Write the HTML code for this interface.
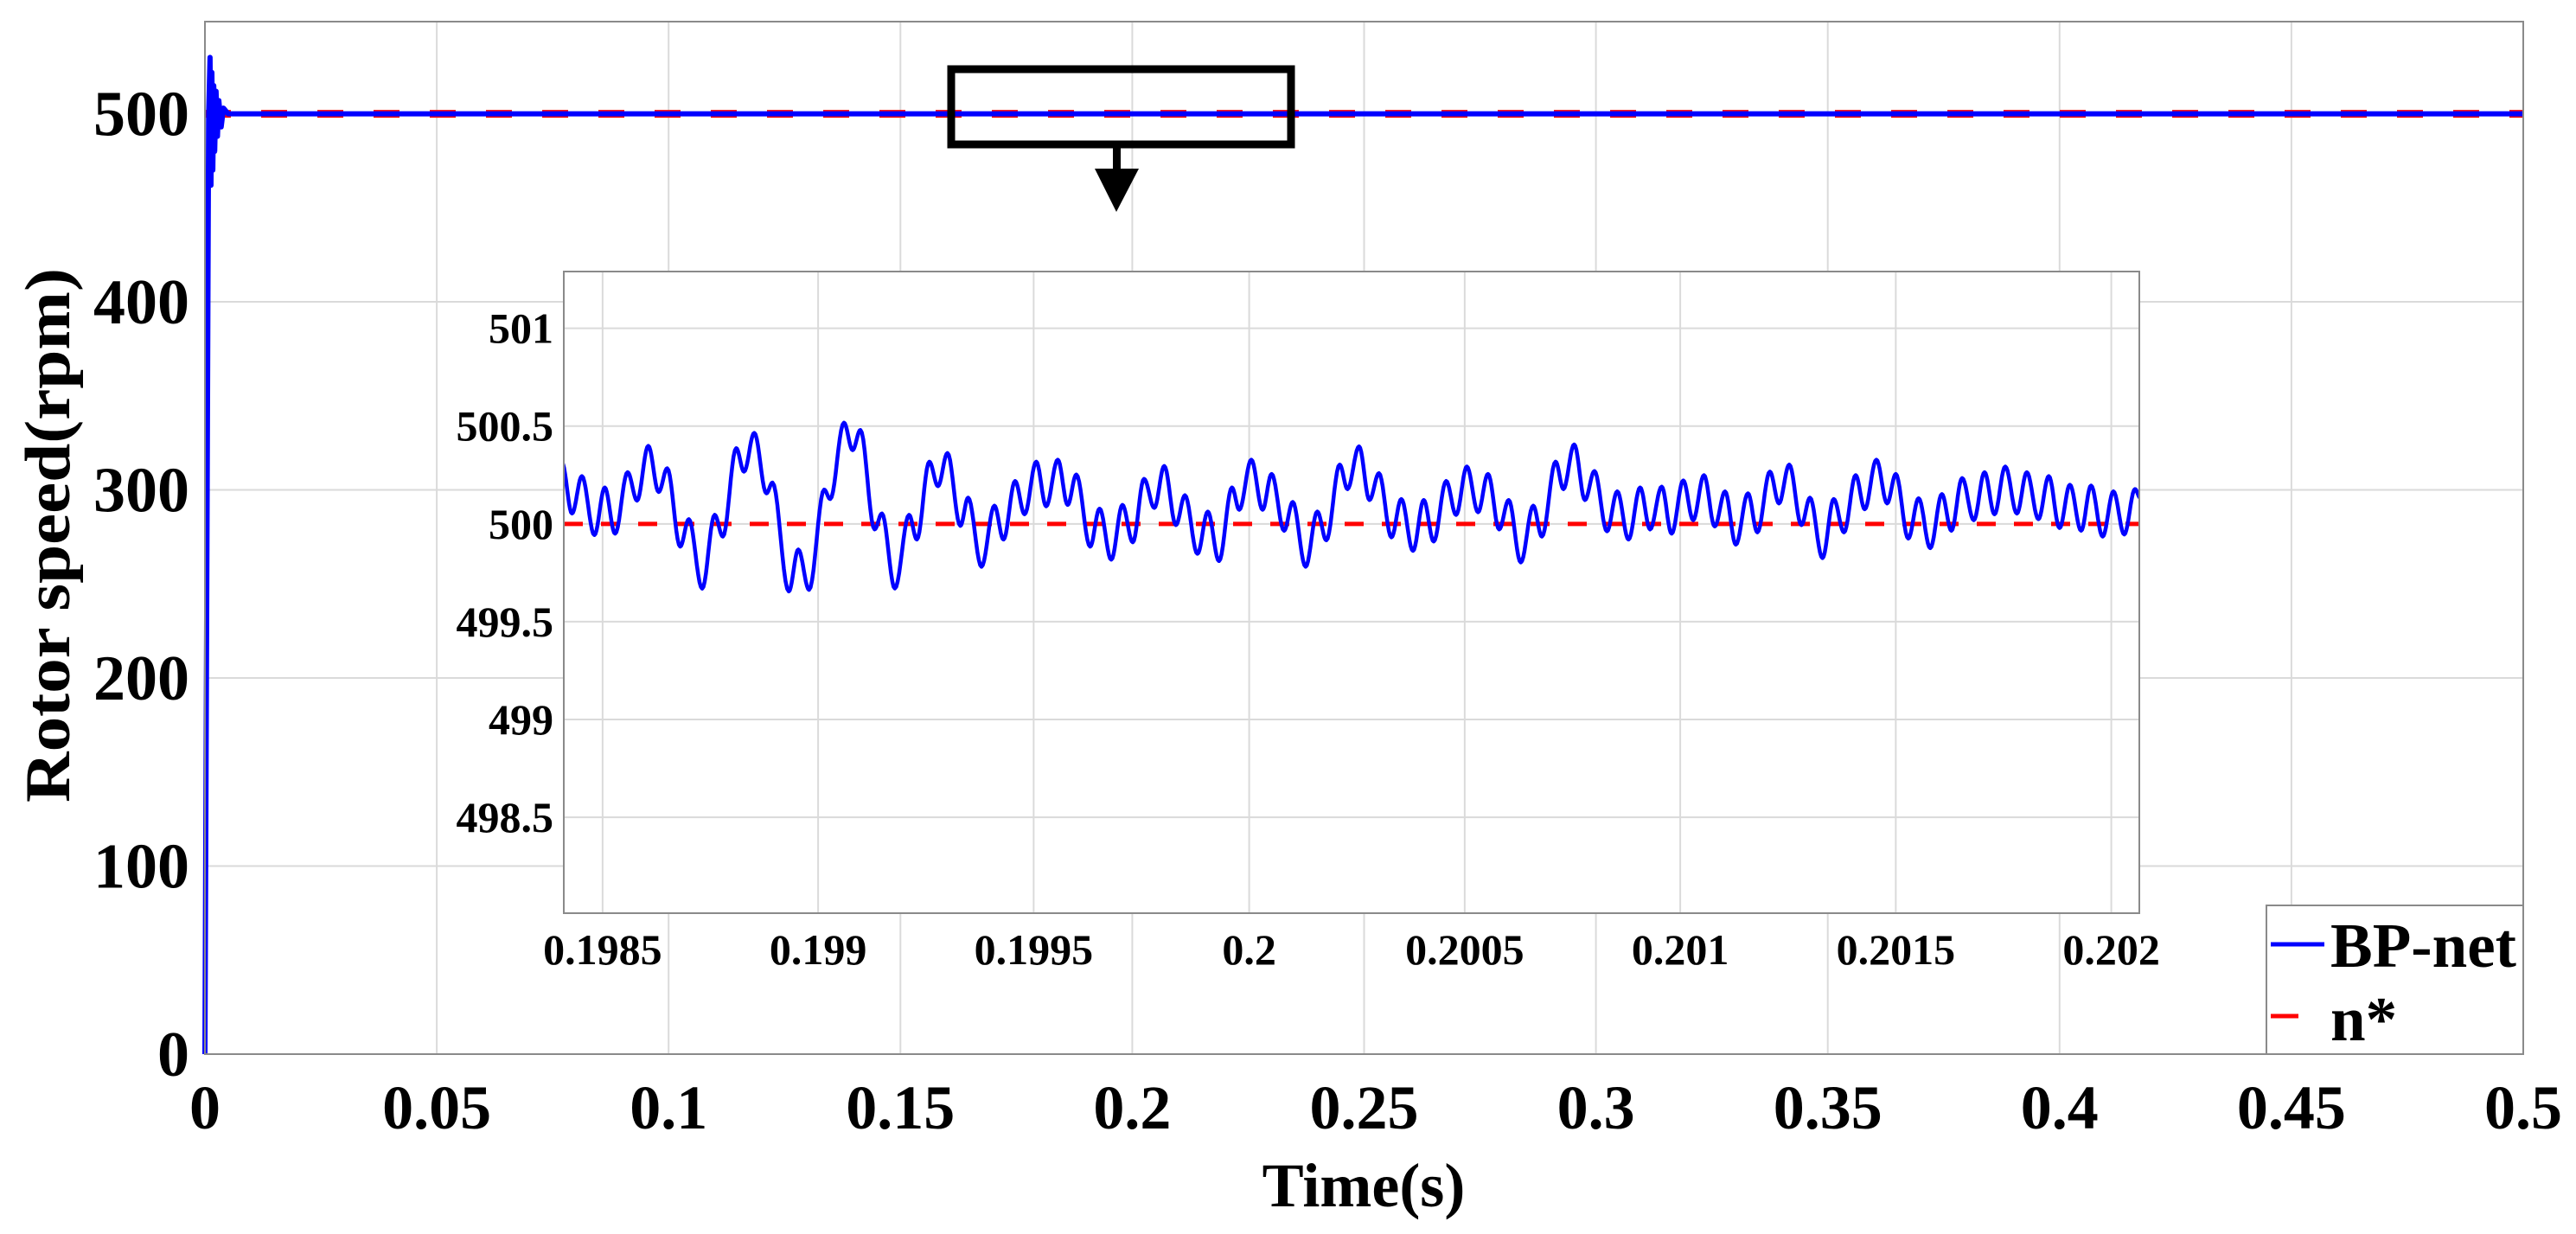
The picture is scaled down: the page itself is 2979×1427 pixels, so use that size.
<!DOCTYPE html>
<html><head><meta charset="utf-8">
<style>
html,body{margin:0;padding:0;background:#fff;}
svg{display:block;}
text{font-family:"Liberation Serif","Times New Roman",serif;font-weight:bold;fill:#000;}
</style></head>
<body>
<svg id="chart" width="2979" height="1427" viewBox="0 0 2979 1427" xmlns="http://www.w3.org/2000/svg">
  <rect x="0" y="0" width="2979" height="1427" fill="#fff"/>
  <g id="main-grid"></g>
  <g id="main-series"></g>
  <rect x="237" y="25" width="2681" height="1194" fill="none" stroke="#8a8a8a" stroke-width="2"/>
  <g id="main-ticks"></g>
  <text x="1577" y="1395" font-size="72" text-anchor="middle">Time(s)</text>
  <text transform="translate(80,619) rotate(-90)" font-size="74" text-anchor="middle" textLength="618" lengthAdjust="spacingAndGlyphs">Rotor speed(rpm)</text>
  <g>
    <rect x="1100" y="80" width="393" height="87" fill="none" stroke="#000" stroke-width="9"/>
    <rect x="1287" y="170" width="9" height="27" fill="#000"/>
    <polygon points="1266,195 1317,195 1291,245" fill="#000"/>
  </g>
  <g id="inset">
    <rect x="652" y="314" width="1822" height="742" fill="#fff"/>
    <g id="inset-grid"></g>
    <clipPath id="insetClip"><rect x="652" y="314" width="1822" height="742"/></clipPath>
    <g id="inset-series" clip-path="url(#insetClip)"></g>
    <rect x="652" y="314" width="1822" height="742" fill="none" stroke="#8a8a8a" stroke-width="2"/>
    <g id="inset-ticks"></g>
  </g>
  <g>
    <rect x="2621" y="1047" width="297" height="172" fill="#fff" stroke="#8a8a8a" stroke-width="2"/>
    <line x1="2626" y1="1092" x2="2688" y2="1092" stroke="#0000ff" stroke-width="5"/>
    <text x="2695" y="1118" font-size="73">BP-net</text>
    <line x1="2626" y1="1175" x2="2658" y2="1175" stroke="#ff0000" stroke-width="5"/>
    <text x="2695" y="1203" font-size="73">n*</text>
  </g>
</svg>
<script>
// ---- main chart data ----
const mainXTicks = [0,0.05,0.1,0.15,0.2,0.25,0.3,0.35,0.4,0.45,0.5];
const mainXTickLabels = ["0","0.05","0.1","0.15","0.2","0.25","0.3","0.35","0.4","0.45","0.5"];
const mainYTicks = [0,100,200,300,400,500];
const mainYTickLabels = ["0","100","200","300","400","500"];
const mainTime = [0,0.0008,0.0011,0.0013,0.0015,0.0017,0.0019,0.0021,0.0024,0.0027,0.003,0.0035,0.004,0.005,0.5];
const mainSpeed = [0,500,530,462,522,470,515,480,512,488,507,493,503,500,500];
const refTime = [0,0.5];
const refSpeed = [500,500];
// ---- inset data ----
const insetXTicks = [0.1985,0.199,0.1995,0.2,0.2005,0.201,0.2015,0.202];
const insetXTickLabels = ["0.1985","0.199","0.1995","0.2","0.2005","0.201","0.2015","0.202"];
const insetYTicks = [498.5,499,499.5,500,500.5,501];
const insetYTickLabels = ["498.5","499","499.5","500","500.5","501"];
const insetTimeMs = [198.406,198.429,198.452,198.481,198.505,198.529,198.558,198.580,198.606,198.630,198.650,198.680,198.700,198.731,198.760,198.779,198.810,198.828,198.852,198.880,198.894,198.932,198.954,198.979,199.014,199.028,199.060,199.080,199.098,199.131,199.148,199.178,199.211,199.229,199.258,199.278,199.300,199.330,199.348,
199.379,199.409,199.430,199.457,199.479,199.506,199.529,199.556,199.579,199.599,199.631,199.653,199.680,199.706,199.730,199.756,199.780,199.803,199.830,199.851,199.880,199.904,199.930,199.960,199.977,200.005,200.031,200.052,200.081,200.101,200.131,200.158,200.179,200.210,200.228,200.255,
200.279,200.301,200.330,200.353,200.380,200.405,200.428,200.457,200.480,200.505,200.531,200.554,200.580,200.602,200.630,200.659,200.679,200.711,200.729,200.754,200.779,200.801,200.830,200.854,200.880,200.907,200.930,200.957,200.980,201.007,201.030,201.055,201.080,201.104,201.129,201.157,201.179,
201.208,201.229,201.253,201.281,201.301,201.330,201.356,201.380,201.407,201.428,201.455,201.480,201.500,201.529,201.553,201.580,201.607,201.629,201.654,201.681,201.706,201.729,201.754,201.781,201.804,201.831,201.855,201.880,201.904,201.930,201.953,201.980,202.005,202.030,202.055,202.067];
const insetDev = [0.311,0.053,0.244,-0.057,0.186,-0.050,0.264,0.119,0.399,0.163,0.284,-0.116,0.024,-0.331,0.046,-0.065,0.387,0.267,0.465,0.156,0.211,-0.345,-0.131,-0.337,0.175,0.127,0.517,0.377,0.480,-0.028,0.053,-0.330,0.046,-0.080,0.318,0.193,0.362,-0.010,0.134,
-0.219,0.093,-0.080,0.219,0.049,0.318,0.090,0.328,0.097,0.252,-0.116,0.078,-0.183,0.097,-0.094,0.230,0.082,0.296,-0.006,0.146,-0.153,0.063,-0.190,0.186,0.072,0.328,0.072,0.255,-0.035,0.112,-0.219,0.063,-0.084,0.303,0.178,0.396,
0.122,0.259,-0.069,0.127,-0.138,0.122,-0.090,0.219,0.046,0.293,0.060,0.255,-0.028,0.122,-0.197,0.093,-0.065,0.318,0.178,0.406,0.122,0.270,-0.038,0.166,-0.080,0.186,-0.028,0.190,-0.050,0.222,0.019,0.249,-0.013,0.166,-0.106,0.156,-0.043,
0.267,0.105,0.303,-0.006,0.134,-0.175,0.127,-0.043,0.249,0.075,0.328,0.105,0.255,-0.075,0.131,-0.124,0.152,-0.035,0.234,0.019,0.264,0.049,0.293,0.053,0.264,0.024,0.244,-0.021,0.200,-0.035,0.196,-0.065,0.166,-0.054,0.178,0.134];
const insetBase = 500;
const insetRef = [500,500];

const NS = "http://www.w3.org/2000/svg";
function mk(tag, attrs, parent){
  const e = document.createElementNS(NS, tag);
  for (const k in attrs) e.setAttribute(k, attrs[k]);
  parent.appendChild(e);
  return e;
}
// main axes
const M = {x0:237, x1:2918, y0:1219, y1:25, xmin:0, xmax:0.5, ymin:0, ymax:549};
function mx(t){ return M.x0 + (t - M.xmin)/(M.xmax - M.xmin)*(M.x1 - M.x0); }
function my(v){ return M.y0 - (v - M.ymin)/(M.ymax - M.ymin)*(M.y0 - M.y1); }
// inset axes
const I = {x0:652, x1:2474, y0:1056, y1:314, xmin:198.410, xmax:202.065, ymin:498.01, ymax:501.29};
function ix(t){ return I.x0 + (t - I.xmin)/(I.xmax - I.xmin)*(I.x1 - I.x0); }
function iy(v){ return I.y0 - (v - I.ymin)/(I.ymax - I.ymin)*(I.y0 - I.y1); }

const mg = document.getElementById('main-grid');
const mt = document.getElementById('main-ticks');
mainXTicks.forEach((t,i)=>{
  if (i>0 && i<mainXTicks.length-1){
    const l = mk('line',{x1:mx(t),x2:mx(t),y1:M.y1,y2:M.y0,stroke:'#dadada','stroke-width':2},mg);
    
    
  }
  const tx = mk('text',{x:mx(t),y:1305,'font-size':72,'text-anchor':'middle'},mt);
  tx.textContent = mainXTickLabels[i];
  
  
});
mainYTicks.forEach((v,i)=>{
  if (i>0){
    const l = mk('line',{x1:M.x0,x2:M.x1,y1:my(v),y2:my(v),stroke:'#dadada','stroke-width':2},mg);
    
    
  }
  const tx = mk('text',{x:219,y:my(v)+25,'font-size':74,'text-anchor':'end'},mt);
  tx.textContent = mainYTickLabels[i];
  
  
});
const ms = document.getElementById('main-series');
const refLine = mk('polyline',{points:refTime.map((t,i)=>mx(t)+','+my(refSpeed[i])).join(' '),fill:'none',stroke:'#ff0000','stroke-width':9,'stroke-dasharray':'30 35'},ms);


const bpLine = mk('polyline',{points:mainTime.map((t,i)=>mx(t)+','+my(mainSpeed[i])).join(' '),fill:'none',stroke:'#0000ff','stroke-width':6,'stroke-linejoin':'round'},ms);



// inset
const ig = document.getElementById('inset-grid');
const it = document.getElementById('inset-ticks');
insetXTicks.forEach((t,i)=>{
  const x = ix(t*1000);
  const l = mk('line',{x1:x,x2:x,y1:I.y1,y2:I.y0,stroke:'#dadada','stroke-width':2},ig);
  
  
  const tx = mk('text',{x:x,y:1115,'font-size':50,'text-anchor':'middle'},it);
  tx.textContent = insetXTickLabels[i];
  
  
});
insetYTicks.forEach((v,i)=>{
  const y = iy(v);
  const l = mk('line',{x1:I.x0,x2:I.x1,y1:y,y2:y,stroke:'#dadada','stroke-width':2},ig);
  
  
  const tx = mk('text',{x:640,y:y+17,'font-size':50,'text-anchor':'end'},it);
  tx.textContent = insetYTickLabels[i];
  
  
});
const is = document.getElementById('inset-series');
const iref = mk('line',{x1:I.x0,x2:I.x1,y1:iy(insetRef[0]),y2:iy(insetRef[1]),stroke:'#ff0000','stroke-width':5,'stroke-dasharray':'22 21'},is);


// smooth (cosine) interpolation between extrema
const pts = [];
for (let k=0;k<insetTimeMs.length-1;k++){
  const ta=insetTimeMs[k], tb=insetTimeMs[k+1];
  const va=insetBase+insetDev[k], vb=insetBase+insetDev[k+1];
  const N=10;
  for (let s=0;s<N;s++){
    const u=s/N;
    const w=(1-Math.cos(Math.PI*u))/2;
    pts.push(ix(ta+(tb-ta)*u).toFixed(1)+','+iy(va+(vb-va)*w).toFixed(1));
  }
}
const last=insetTimeMs.length-1;
pts.push(ix(insetTimeMs[last]).toFixed(1)+','+iy(insetBase+insetDev[last]).toFixed(1));
const ibp = mk('polyline',{points:pts.join(' '),fill:'none',stroke:'#0000ff','stroke-width':4.5,'stroke-linejoin':'round'},is);


</script>
</body></html>
